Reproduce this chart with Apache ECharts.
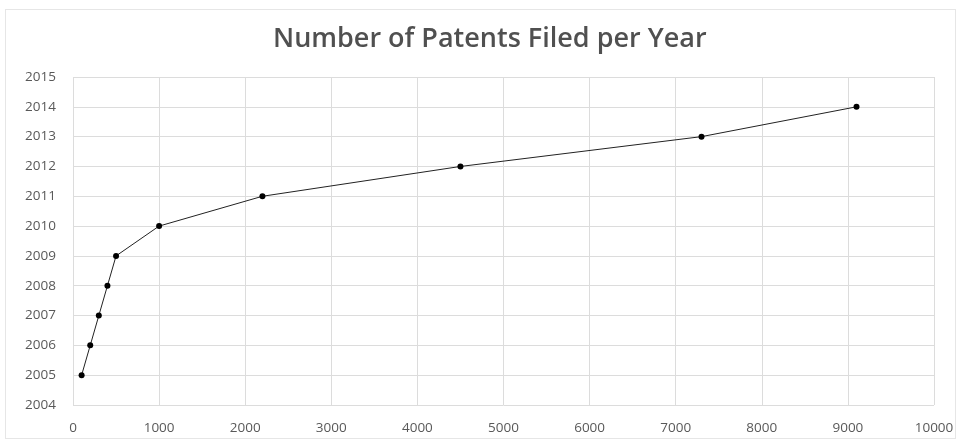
<!DOCTYPE html>
<html>
<head>
<meta charset="utf-8">
<script src="https://cdn.jsdelivr.net/npm/echarts@6/dist/echarts.min.js"></script>
<style>
  html, body { margin: 0; padding: 0; background: #fff; }
  #wrap { position: absolute; left: 5px; top: 9px; width: 951px; height: 430px; border: 1px solid #e6e6e6; box-sizing: border-box; }
  #chart { position: absolute; left: 0; top: 0; width: 961px; height: 443px; }
</style>
</head>
<body>
<div id="wrap"></div>
<div id="chart"></div>
<script>
// Patents filed (x) against year (y)
const patents = [100, 200, 300, 400, 500, 1000, 2200, 4500, 7300, 9100];
const years = [2005, 2006, 2007, 2008, 2009, 2010, 2011, 2012, 2013, 2014];

const chart = echarts.init(document.getElementById('chart'), null, { renderer: 'canvas' });
const labelStyle = { color: '#595959', fontSize: 13.5, fontFamily: 'Open Sans, Liberation Sans, sans-serif' };
const gridLine = { show: true, lineStyle: { color: '#dcdcdc', width: 1 } };
const plain = v => String(v);

chart.setOption({
  backgroundColor: 'transparent',
  animation: false,
  title: {
    text: 'Number of Patents Filed per Year',
    left: 268,
    top: 21,
    textStyle: { color: '#505050', fontSize: 27, fontWeight: 600, fontFamily: 'Open Sans, Liberation Sans, sans-serif' }
  },
  grid: { left: 73, right: 27, top: 77, bottom: 38 },
  xAxis: {
    type: 'value',
    min: 0, max: 10000, interval: 1000,
    axisLine: { show: false },
    axisTick: { show: false },
    axisLabel: Object.assign({ margin: 16, formatter: plain }, labelStyle),
    splitLine: gridLine
  },
  yAxis: {
    type: 'value',
    min: 2004, max: 2015, interval: 1,
    axisLine: { show: false },
    axisTick: { show: false },
    axisLabel: Object.assign({ margin: 17, formatter: plain }, labelStyle),
    splitLine: gridLine
  },
  series: [{
    type: 'line',
    data: patents.map((p, i) => [p, years[i]]),
    symbol: 'circle',
    symbolSize: 6,
    lineStyle: { color: '#222', width: 1 },
    itemStyle: { color: '#000' }
  }]
});
</script>
</body>
</html>
